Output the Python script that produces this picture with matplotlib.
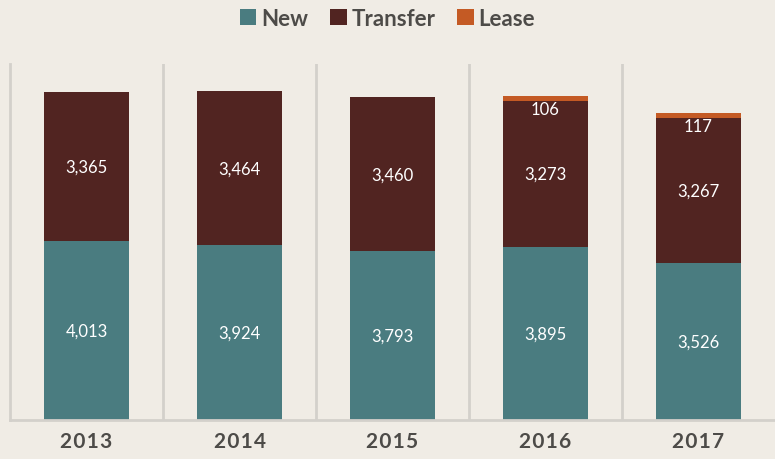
import matplotlib.pyplot as plt
import numpy as np

# data
years = ['2013', '2014', '2015', '2016', '2017']
new = [4013, 3924, 3793, 3895, 3526]
transfer = [3365, 3464, 3460, 3273, 3267]
lease = [0, 0, 0, 106, 117]

bg = '#f0ece5'
c_new = '#4a7c80'
c_transfer = '#512421'
c_lease = '#c45a24'
txt = '#4d4b48'
grid_c = '#d3d0cb'

plt.rcParams['font.family'] = ['Lato', 'DejaVu Sans']

fig = plt.figure(figsize=(7.75, 4.6), dpi=100, facecolor=bg)
ax = fig.add_axes([10/775, 39/460, 765/775, 356/460], facecolor=bg)

x = np.arange(len(years))
new_a = np.array(new)
tr_a = np.array(transfer)
le_a = np.array(lease)

w = 0.56
ax.bar(x, new_a, w, color=c_new, label='New')
ax.bar(x, tr_a, w, bottom=new_a, color=c_transfer, label='Transfer')
ax.bar(x, le_a, w, bottom=new_a + tr_a, color=c_lease, label='Lease')

# value labels
for i in range(len(years)):
    ax.text(x[i], new_a[i] / 2, f'{new[i]:,}', ha='center', va='center',
            color='white', fontsize=12)
    ax.text(x[i], new_a[i] + tr_a[i] / 2, f'{transfer[i]:,}', ha='center',
            va='center', color='white', fontsize=12)
    if lease[i] > 0:
        ax.annotate(f'{lease[i]:,}', (x[i], new_a[i] + tr_a[i]),
                    xytext=(0, 0), textcoords='offset points',
                    ha='center', va='top', color='white', fontsize=12)

ax.set_xlim(-0.5, 4.5)
ax.set_ylim(0, 8000)

for b in np.arange(0.5, 4.5, 1):
    ax.axvline(b, color=grid_c, lw=2, zorder=0)

for s in ['top', 'right']:
    ax.spines[s].set_visible(False)
for s in ['left', 'bottom']:
    ax.spines[s].set_color(grid_c)
    ax.spines[s].set_linewidth(2)

ax.set_yticks([])
ax.set_xticks(x)
ax.set_xticklabels(['\u200a'.join(y) for y in years], fontsize=15,
                   fontweight='bold', color=txt)
ax.tick_params(axis='x', length=0, pad=8)

leg = fig.legend(loc='center', bbox_to_anchor=(0.5, 0.958), ncol=3,
                 frameon=False, fontsize=16, handlelength=0.75,
                 handleheight=0.75, handletextpad=0.2, columnspacing=1.0)
for t in leg.get_texts():
    t.set_color(txt)
    t.set_fontweight('bold')

fig.savefig('out.png', dpi=100, facecolor=bg)
